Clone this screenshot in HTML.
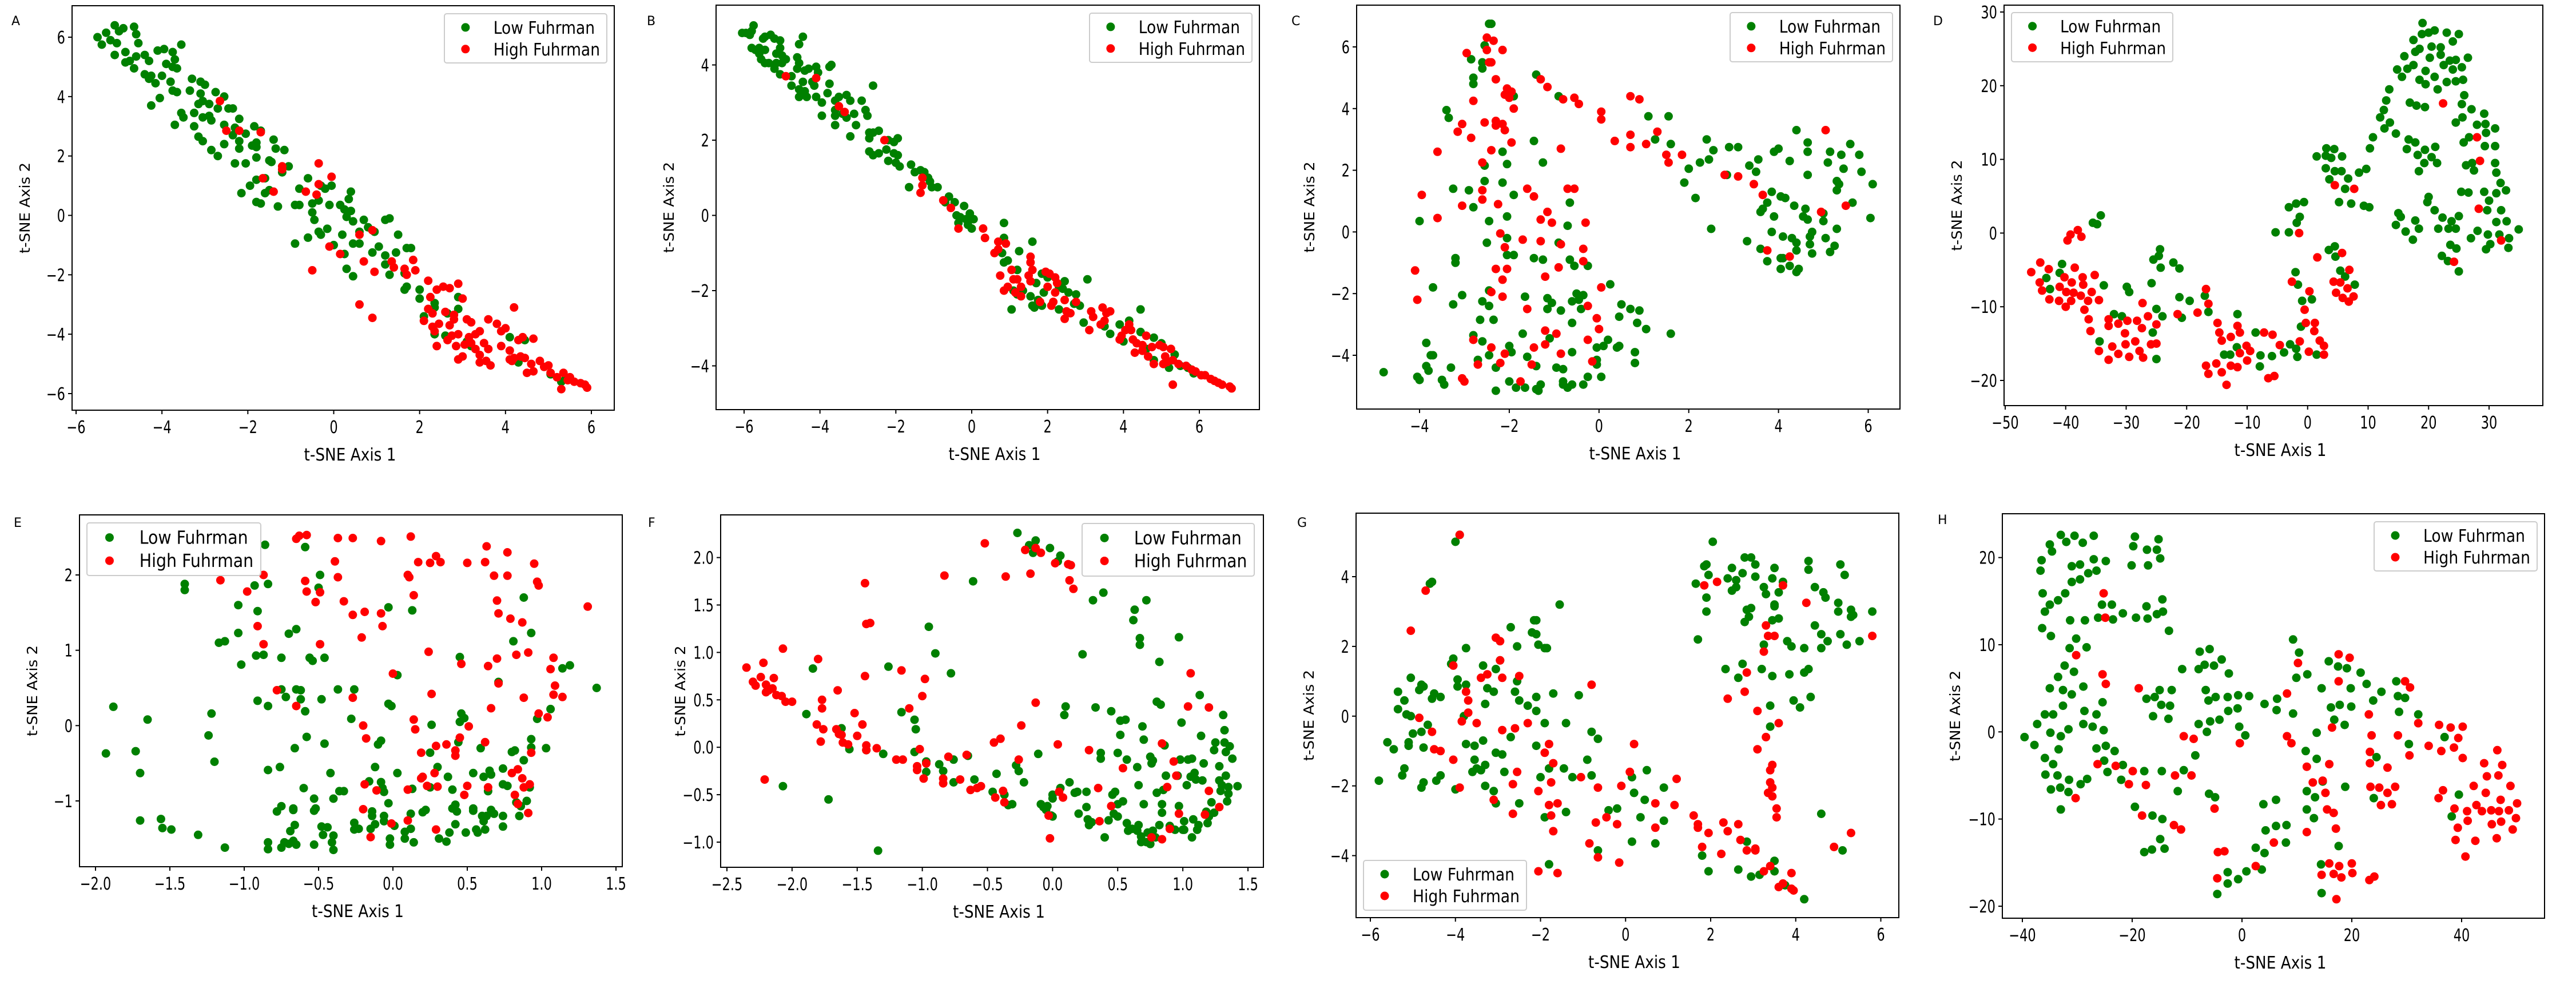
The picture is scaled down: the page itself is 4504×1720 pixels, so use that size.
<!DOCTYPE html>
<html><head><meta charset="utf-8"><style>html,body{margin:0;padding:0;background:#fff}svg{display:block}text{font-family:"DejaVu Sans","Liberation Sans",sans-serif}</style></head>
<body>
<svg id="fig" xmlns="http://www.w3.org/2000/svg" width="4504" height="1720" viewBox="0 0 4504 1720">
<rect width="4504" height="1720" fill="#fff"/>
</svg>
<script>
// ---------- data (t-SNE coordinates, [x,y] pairs flattened) ----------
const panelA_low=[-5.5,6.0,-5.1,6.4,-4.9,6.3,-4.65,6.35,-5.3,6.15,-5.0,6.2,-5.4,5.75,-5.2,5.9,-5.05,5.8,-4.6,6.1,-4.55,5.8,-5.1,5.4,-4.85,5.5,-4.85,5.15,-4.65,4.95,-4.75,5.2,-4.6,5.35,-4.4,5.4,-4.3,5.2,-4.1,5.55,-3.95,5.6,-3.75,5.5,-3.55,5.75,-3.9,5.1,-3.75,5.0,-3.65,4.95,-3.7,5.25,-4.4,4.75,-4.3,4.6,-4.25,4.7,-4.15,4.45,-4.0,4.7,-3.8,4.5,-3.75,4.2,-3.65,4.15,-4.05,3.95,-4.25,3.7,-3.3,4.6,-3.1,4.5,-3.0,4.4,-3.35,4.2,-3.1,4.1,-2.75,4.15,-2.55,4.0,-3.05,3.85,-3.15,3.75,-2.9,3.75,-2.7,3.6,-2.45,3.6,-2.35,3.6,-3.55,3.45,-3.5,3.3,-3.25,3.45,-3.05,3.3,-2.9,3.35,-2.85,3.2,-3.7,3.05,-3.25,3.0,-2.55,3.05,-2.2,3.25,-2.3,2.95,-1.85,3.0,-1.7,2.85,-2.05,2.75,-3.15,2.65,-3.05,2.5,-2.85,2.2,-2.7,2.0,-2.55,2.4,-2.35,2.7,-2.2,2.5,-2.2,2.25,-1.9,2.35,-1.8,2.45,-1.8,2.3,-1.8,1.95,-1.4,2.55,-1.35,2.25,-1.15,2.2,-1.5,1.85,-1.45,1.8,-2.3,1.75,-2.05,1.75,-1.2,1.45,-1.05,1.65,-1.6,1.25,-1.8,1.2,-1.95,1.0,-2.15,0.75,-1.6,0.75,-1.5,0.85,-1.8,0.45,-1.7,0.4,-1.3,0.3,-0.9,0.35,-0.8,0.35,-0.8,0.9,-0.6,1.25,-0.3,1.0,-0.2,0.9,-0.05,1.0,0.4,0.8,-0.5,0.4,-0.35,0.5,-0.1,0.35,0.15,0.35,0.35,0.55,0.25,0.2,0.4,0.15,-0.5,0.1,-0.45,-0.15,-0.35,-0.55,-0.3,-0.65,-0.15,-0.45,0.3,-0.05,0.45,-0.2,0.7,-0.15,0.8,-0.4,0.95,-0.55,0.6,-0.55,1.2,-0.15,1.3,-0.1,1.5,-0.65,0.2,-0.65,0.6,-0.95,0.45,-0.95,-0.9,-0.95,-0.6,-0.75,0.0,-1.0,1.05,-1.05,0.9,-1.25,0.25,-1.3,1.2,-1.35,1.45,-1.25,1.7,-1.1,1.8,-1.1,1.2,-1.65,1.3,-2.0,0.3,-1.8,0.45,-2.05,1.65,-1.95,1.7,-2.4,1.65,-2.5,2.0,-2.5,2.0,-2.8,2.35,-2.95,2.9,-2.75,2.35,-3.1,2.1,-3.4,2.65,-3.3,2.9,-3.15,2.35,-4.0,2.6,-4.05,3.1,-4.25,3.2,-4.4,4.1,-4.1,4.45,-4.2,4.3,-4.95,5.05,-5.35,5.3,-5.6,5.4,-5.5];
const panelA_high=[-2.65,3.85,-2.5,2.85,-2.2,2.85,-1.7,2.8,-1.2,1.65,-1.2,1.55,-0.35,1.75,-0.05,1.3,-1.65,1.25,-1.4,0.8,-0.65,0.8,-0.35,1.05,-0.4,0.7,0.6,-0.65,0.9,-0.5,-0.1,-1.05,0.15,-1.3,0.7,-1.55,0.95,-1.9,-0.5,-1.85,1.35,-1.55,1.4,-1.75,1.65,-1.8,1.7,-2.0,1.85,-1.5,1.9,-1.85,0.6,-3.0,0.9,-3.45,2.2,-2.2,2.25,-2.75,2.4,-2.5,2.55,-2.4,2.7,-2.45,2.9,-2.3,3.0,-2.8,2.2,-3.15,2.3,-3.3,2.6,-3.25,2.8,-3.35,2.8,-3.5,2.1,-3.55,2.3,-3.75,2.45,-3.65,2.7,-3.7,2.35,-3.9,2.65,-4.2,2.75,-4.05,2.9,-4.0,2.4,-4.4,2.85,-4.4,3.1,-3.5,3.2,-3.6,3.3,-4.0,3.4,-3.9,3.15,-4.1,3.2,-4.3,3.05,-4.35,3.3,-4.5,3.5,-4.3,3.4,-4.7,3.0,-4.75,2.9,-4.85,3.6,-3.5,3.8,-3.65,3.9,-3.9,4.0,-3.8,3.6,-4.5,3.9,-4.4,3.55,-4.9,3.65,-5.05,3.4,-4.95,4.2,-3.1,4.1,-4.55,4.3,-4.2,4.4,-4.1,4.65,-4.15,4.1,-4.85,4.2,-4.8,4.35,-4.75,4.45,-4.8,4.5,-5.3,4.65,-5.25,4.6,-5.0,4.8,-4.9,4.9,-5.1,5.0,-5.05,5.05,-5.3,5.2,-5.45,5.35,-5.3,5.45,-5.55,5.5,-5.45,5.6,-5.6,5.75,-5.65,5.85,-5.7,5.9,-5.8,5.3,-5.85,4.15,-4.9];
const panelB_low=[-6.05,4.85,-5.95,4.85,-5.85,4.8,-5.8,4.9,-5.75,5.05,-5.8,4.45,-5.7,4.4,-5.6,4.3,-5.55,4.15,-5.6,4.45,-5.45,4.4,-5.5,4.7,-5.45,4.75,-5.3,4.8,-5.2,4.7,-5.05,4.65,-5.05,4.45,-5.15,4.3,-5.0,4.25,-4.9,4.15,-5.0,4.05,-5.15,4.05,-5.35,4.05,-5.45,4.05,-5.2,3.9,-5.05,3.75,-4.75,3.7,-4.55,4.55,-4.45,4.75,-4.6,4.2,-4.55,4.05,-4.6,3.9,-4.4,3.85,-4.3,3.9,-4.1,3.95,-4.05,3.8,-3.7,4.0,-3.75,3.95,-4.45,3.55,-4.2,3.55,-4.15,3.45,-4.75,3.45,-4.55,3.35,-4.55,3.15,-4.4,3.3,-4.35,3.15,-4.1,3.15,-3.95,3.0,-3.8,3.25,-3.75,3.5,-3.6,3.05,-3.5,3.15,-3.3,3.2,-3.2,3.05,-2.9,3.05,-2.6,3.45,-3.6,2.8,-3.4,2.7,-3.3,2.6,-3.1,2.7,-3.05,2.4,-2.8,2.8,-2.75,2.65,-3.6,2.65,-3.6,2.4,-3.95,2.65,-3.2,2.1,-2.7,2.2,-2.7,2.05,-2.45,2.25,-2.6,2.2,-2.2,2.0,-2.05,1.95,-1.95,2.05,-2.7,1.7,-2.6,1.6,-2.45,1.65,-2.25,1.75,-2.05,1.65,-1.95,1.6,-2.2,1.45,-2.0,1.4,-1.9,1.3,-1.6,1.35,-1.5,1.15,-1.35,1.2,-1.25,1.15,-1.15,1.0,-1.1,0.9,-1.05,0.75,-0.9,0.75,-1.65,0.75,-0.6,0.5,-0.7,0.35,-0.45,0.35,-0.2,0.25,-0.4,0.0,-0.3,-0.05,-0.15,-0.1,-0.05,0.05,0.05,-0.1,-0.35,-0.2,-0.1,-0.25,0.0,-0.35,0.85,-0.2,0.85,-0.6,0.8,-1.0,0.85,-1.25,0.95,-1.2,1.25,-0.95,1.6,-0.7,1.2,-1.45,1.1,-2.0,1.2,-2.1,1.35,-2.0,1.55,-2.15,1.6,-2.4,1.65,-2.45,1.05,-2.5,1.7,-1.8,1.85,-1.55,2.0,-1.65,1.9,-2.05,1.75,-2.25,1.85,-2.4,2.3,-2.5,2.3,-1.9,2.45,-1.75,2.4,-1.95,2.55,-2.05,2.75,-2.1,2.7,-2.35,2.85,-2.4,3.05,-1.7,2.95,-2.85,3.5,-2.95,3.65,-3.15,3.9,-2.9,4.15,-2.8,4.45,-2.5,4.45,-3.1,4.0,-3.35,4.8,-3.25,4.6,-3.55,5.0,-3.4,4.8,-3.85,5.2,-4.05,5.35,-3.7,5.5,-4.0,5.85,-4.2,5.7,-4.05];
const panelB_high=[-4.9,3.7,-4.1,3.65,-3.5,2.9,-3.35,2.75,-2.3,2.0,-1.3,1.0,-1.3,0.8,-1.35,0.6,-0.75,0.4,-0.55,0.2,-0.35,-0.35,0.3,-0.35,0.35,-0.6,0.6,-1.0,0.7,-0.9,0.7,-0.7,0.9,-0.75,0.75,-1.6,0.85,-2.0,0.95,-1.9,1.05,-1.45,1.1,-1.7,1.15,-2.05,1.2,-1.7,1.3,-1.9,1.3,-2.15,1.5,-1.6,1.55,-1.75,1.55,-1.1,1.55,-1.25,1.6,-1.45,1.95,-1.5,2.05,-1.55,2.0,-1.9,2.2,-1.65,2.25,-1.8,2.2,-2.05,1.8,-2.3,2.15,-2.3,2.1,-2.4,2.45,-2.25,2.5,-2.55,2.6,-2.6,2.45,-2.75,2.75,-2.3,3.15,-2.55,3.2,-2.7,3.1,-3.05,3.4,-2.9,3.45,-2.45,3.55,-2.6,3.65,-2.55,3.5,-2.8,3.9,-3.3,3.95,-3.2,4.05,-3.05,4.15,-2.9,4.2,-3.05,4.25,-3.3,4.35,-3.4,4.5,-3.45,4.6,-3.2,4.5,-3.6,4.3,-3.65,4.65,-3.75,4.75,-3.5,4.95,-3.45,5.05,-3.5,5.1,-3.75,5.15,-3.9,5.25,-3.55,5.3,-3.85,4.8,-3.95,5.05,-3.95,5.3,-4.5,5.45,-3.95,5.65,-4.0,5.8,-4.1,5.9,-4.15,6.05,-4.25,6.15,-4.25,6.3,-4.35,6.4,-4.4,6.5,-4.45,6.6,-4.5,6.8,-4.55,6.85,-4.6];
const panelC_low=[-2.45,6.75,-2.4,6.75,-2.55,6.05,-2.85,5.6,-2.6,5.5,-2.6,5.3,-2.8,5.0,-2.8,4.8,-1.4,5.1,-0.9,4.4,-1.9,4.4,-3.4,3.95,-3.35,3.7,-1.45,2.95,-2.15,2.6,-1.25,2.25,-2.55,2.15,-2.05,2.2,-2.55,1.65,-2.15,1.6,-3.25,1.4,-2.9,1.35,-1.9,1.2,-2.8,0.8,-0.65,0.95,-4.0,0.35,-2.45,0.35,-2.05,0.5,-0.7,0.2,-2.5,-0.35,-2.05,-0.2,-0.9,-0.35,-2.05,-0.75,-1.9,-0.75,-3.2,-0.85,-3.2,-1.0,-1.45,-0.85,-1.25,-0.9,-0.65,-0.9,-0.55,-1.1,-0.25,-1.1,-3.7,-1.8,-3.05,-2.05,-2.45,-1.9,-1.65,-2.1,-1.15,-2.15,-0.5,-2.0,-0.35,-2.05,0.25,-1.7,-3.25,-2.35,-2.6,-2.25,-2.45,-2.4,-1.05,-2.3,-0.6,-2.25,-0.45,-2.2,-1.15,-2.5,-0.85,-2.55,-0.4,-2.5,0.5,-2.35,0.7,-2.5,0.9,-2.55,0.45,-2.75,0.85,-2.95,-2.65,-2.85,-2.35,-2.85,-0.6,-2.95,1.05,-3.15,1.6,-3.3,-2.8,-3.35,-1.7,-3.3,-3.85,-3.6,-2.6,-3.55,-2.0,-3.7,-1.1,-3.45,0.2,-3.5,0.1,-3.7,-0.05,-3.75,0.45,-3.7,0.4,-3.75,0.8,-3.9,-3.75,-4.0,-3.7,-4.0,-2.7,-4.15,-2.45,-4.0,-1.95,-3.9,-1.6,-4.05,-0.6,-3.9,-0.05,-4.15,-0.05,-4.3,0.8,-4.25,-4.8,-4.55,-3.85,-4.35,-3.8,-4.5,-3.3,-4.4,-2.3,-4.4,-1.4,-4.35,-0.95,-4.4,-0.8,-4.45,-4.05,-4.7,-4.0,-4.8,-3.5,-4.8,-3.45,-4.95,-2.0,-4.85,-1.85,-5.05,-1.65,-5.05,-1.4,-5.1,-1.3,-4.95,-1.35,-5.15,-2.3,-5.15,-0.8,-4.85,-0.8,-4.95,-0.7,-5.05,-0.6,-4.95,-0.35,-4.95,-0.25,-4.7,0.05,-4.7,1.1,3.75,1.55,3.75,1.25,3.0,1.6,2.85,2.4,3.0,2.55,2.65,2.9,2.75,3.1,2.75,2.45,2.35,2.25,2.25,2.0,2.05,1.9,1.6,2.15,1.1,2.5,0.1,2.85,1.85,3.35,2.15,3.55,2.35,3.5,1.95,3.9,2.6,4.0,2.7,4.25,2.3,4.4,3.3,4.65,2.9,4.65,2.6,4.65,1.85,5.15,2.6,5.1,2.25,5.4,2.5,5.45,2.05,5.6,2.85,5.8,2.5,5.85,1.95,6.1,1.55,5.3,1.65,5.35,1.55,5.3,1.35,5.65,0.95,6.05,0.45,3.85,1.3,4.05,1.15,4.15,1.1,3.75,0.95,3.65,0.75,3.6,0.65,3.9,0.5,4.35,0.85,4.6,0.75,4.55,0.5,4.65,0.4,5.0,0.6,5.0,0.35,5.3,0.1,3.85,0.0,4.1,-0.15,4.3,-0.2,4.7,-0.15,4.75,0.0,5.05,-0.2,4.4,-0.35,4.7,-0.4,5.25,-0.45,3.3,-0.3,3.6,-0.55,3.75,-0.95,4.05,-0.85,4.1,-0.85,4.4,-0.6,4.75,-0.7,5.15,-0.65,4.05,-1.2,4.25,-1.1,4.4,-1.3,4.45,-1.2];
const panelC_high=[-2.5,6.3,-2.35,6.2,-2.5,5.9,-2.15,5.9,-2.95,5.8,-2.45,5.5,-2.4,5.5,-2.3,4.95,-2.05,4.65,-1.95,4.55,-2.1,4.45,-2.0,4.35,-2.8,4.25,-1.9,4.0,-2.55,3.55,-2.3,3.6,-2.15,3.5,-2.3,3.45,-2.1,3.3,-3.05,3.5,-3.15,3.25,-2.85,3.05,-1.95,2.9,-2.4,2.65,-3.6,2.6,-2.6,2.25,-1.3,4.95,-1.15,4.7,-0.8,4.3,-0.55,4.35,-0.45,4.15,0.05,3.9,0.05,3.65,0.7,4.4,0.9,4.3,0.35,2.95,0.7,3.15,0.7,2.75,1.05,2.85,1.3,3.25,-0.85,2.7,1.5,2.5,1.55,2.25,1.85,2.5,2.8,1.85,3.1,1.8,3.45,1.55,3.65,1.2,5.05,3.3,4.95,0.65,5.5,0.85,3.75,-0.6,4.25,-0.8,-3.95,1.2,-3.6,0.45,-3.05,0.85,-2.6,1.35,-2.6,1.05,-2.25,0.9,-1.6,1.4,-1.45,1.15,-0.7,1.4,-0.55,1.4,-1.15,0.65,-1.3,0.4,-1.05,0.3,-0.3,0.3,-2.2,-0.05,-1.7,-0.25,-1.3,-0.3,-0.85,-0.4,-0.35,-0.55,-2.1,-0.5,-2.3,-1.2,-2.05,-1.2,-2.15,-1.55,-1.2,-1.45,-0.9,-1.15,-0.35,-0.95,-4.1,-1.25,-4.05,-2.2,-2.4,-1.95,-2.15,-2.1,0.05,-1.8,-1.6,-2.5,-0.25,-2.4,-0.05,-2.8,0.0,-3.15,-1.2,-3.2,-0.95,-3.3,-0.25,-3.5,-2.8,-3.5,-2.4,-3.75,-1.2,-3.65,-1.45,-3.75,-2.1,-3.95,-0.85,-3.95,-2.7,-4.3,-2.2,-4.25,-1.5,-4.3,-0.15,-4.2,-3.05,-4.75,-3.0,-4.85,-1.75,-4.85];
const panelD_low=[19,28.5,21,27.5,20,27.2,18.9,27,23,27.2,25,27,17.5,26.2,24,26,18.5,25,17.8,24.6,20.5,25.3,22,25.2,22,24.2,16,24,20.2,23.8,23.5,23.4,24.5,23.5,26.5,23.8,14.8,22.2,16.5,22.3,17.5,22.8,22.5,22.8,19.5,22,24,22.2,25.5,22.5,15.6,21.2,18.5,20.8,21,21.2,19.5,20.2,23,20.5,24.5,20.6,25.7,20.8,13.5,19.5,21.5,19.5,25.9,18.7,13,18,16.9,17.7,18,17.3,19.4,17.1,25.5,17.5,12.6,16.7,27.1,16.8,12,15.7,25.6,15.7,29.2,16.2,13.6,15,24.5,15,12.7,14.2,28,14.7,29.4,14.8,31,14.2,14.6,13.5,16.7,12.7,26.7,13,29.5,13.6,10.8,13,17.8,12.3,25.8,12.3,10.3,11.5,16.4,11.4,19.4,11.3,21.1,11.7,29.3,11.8,31,11.8,18.2,10.6,20.5,10.3,19.3,9.5,21.4,9.5,26.2,9.2,27.2,9.5,31,9.5,18.4,8.4,27.5,8.5,31.2,8.2,31.9,6.8,25.4,5.6,26.6,5.5,29.2,5.6,31.2,5.4,32.8,5.8,20,4.9,19.8,4.2,30,4.4,21,3.1,29.7,3.1,32,3.1,15,2.7,15.4,2.2,22.3,2.1,25,2.3,17.8,1.7,23.8,1.6,31.2,1.5,32.9,1.6,14.6,1.1,21.6,0.6,23.3,0.6,24.5,0.6,18.4,0.6,34.9,0.5,16.2,0.2,28.1,0.3,29.8,-0.2,31.7,-0.2,17.4,-0.9,27,-0.7,33.3,-0.7,23.6,-1.6,30.2,-1.5,24.6,-2.1,29.5,-2.2,33.2,-2,22.2,-3.1,23.2,-3.8,25,-5.2,1.5,10.4,3,10.5,3.1,11.5,4.4,11.4,3.9,10.2,5.7,10.4,3,8.8,4.5,8.4,5.6,8.4,8.5,8.2,9.7,8.7,3.6,7.3,6.7,7.4,6.2,6,5.2,4.2,7.2,4,9.3,3.7,10.2,3.5,-0.6,4.2,-1.9,4,-3.1,3.5,-1.3,2.2,-1.8,1.4,-5.3,0.1,-3.1,0.1,3.5,-2.3,4.5,-1.8,4.6,-3.2,5.4,-5.1,6.2,-5.9,7.8,-7,-2,-5.3,-1.6,-7,-0.9,-9.2,0.7,-9,-1.1,-12.7,-2.9,-15.1,-1.9,-15.7,1.5,-16.5,-3.9,-16.2,-1.7,-16.8,-35.5,1.4,-34.8,1.2,-34.2,2.4,-40.6,-4.2,-41,-5.4,-43.2,-6.1,-42.6,-7.6,-33.7,-7.1,-29.9,-7.3,-29.5,-8,-24.4,-2.2,-24.6,-3.1,-25.5,-3.6,-24.3,-4.7,-22.2,-4,-21.2,-4.8,-25.8,-6.8,-21.2,-8.7,-19.5,-9.2,-17,-8.5,-16.4,-10.7,-25,-10.3,-24,-11.3,-20.8,-11.5,-32,-11,-30.7,-11.3,-25.6,-13.5,-34.4,-14.7,-25,-17.1,-8.6,-13.5,-11.6,-11,-11.7,-15.5,-13.8,-16.5,-12.8,-16.5,-7.8,-16.6,-5.9,-16.7,-7.9,-18.1];
const panelD_high=[-39.7,-1,-39.2,-0.2,-38,0.4,-37.4,-0.5,-45.7,-5.3,-44.2,-4,-42.8,-4.9,-38.5,-4.7,-44.3,-6.7,-43.9,-7.8,-40.2,-6,-39,-6.7,-37.2,-6,-35.2,-5.7,-41,-7.3,-39.9,-8,-38.7,-8.1,-37.1,-7,-37.5,-8.5,-35.7,-8,-42.7,-9,-41.1,-9.2,-40,-10,-39.1,-9.2,-36.3,-9.2,-34.5,-9.1,-36.9,-10.4,-36.2,-11.7,-35.9,-13.3,-32.9,-11.7,-32.9,-12.6,-31.3,-12.3,-29.8,-11.9,-28.2,-11.9,-30.2,-13.6,-27.4,-12.9,-27.3,-9.5,-26.4,-11.3,-25,-12.4,-32.3,-15.4,-34.5,-16,-31.3,-16.4,-28.5,-14.7,-30.1,-15.1,-27.8,-16,-29.5,-16.8,-32.9,-17.2,-27.2,-16.9,-25.9,-15.1,-25,-15,-21.5,-11,-18.2,-10.8,-16.8,-7.6,-16.4,-9.6,-14.9,-12.2,-14.6,-13.5,-14.2,-14.6,-12.7,-14.1,-11.6,-12.6,-11.2,-13.5,-10.1,-15.3,-9.5,-16,-11.2,-16.3,-10,-17.3,-12.7,-18,-11.6,-18.2,-15.1,-17.7,-16.8,-18,-16.4,-19.1,-14.2,-18.9,-13.4,-20.6,-7.2,-13.5,-5.8,-13.8,-4.6,-15.2,-6.5,-19.7,-5.5,-19.4,-1.4,0,1.6,-3.3,-2.6,-6.6,0.3,-7.9,-0.5,-10.4,-0.3,-12.2,1.2,-12.2,1.1,-13.3,2,-14.6,2.7,-15.3,2.7,-16.5,-1.3,-14.7,0.2,-16.1,4.5,6.5,7.7,6,5.7,-2.7,6.9,-5,4.3,-6.6,5.4,-6.7,6.6,-7.5,4.7,-8.1,5.8,-8.8,6.8,-9.3,7.6,-8.6,22.4,17.6,28,13,28.5,9.8,28.3,3.3,32,-1,24.2,-3.9];
const panelE_low=[-1.88,0.25,-1.93,-0.37,-1.73,-0.34,-1.7,-0.63,-1.65,0.08,-1.7,-1.26,-1.56,-1.24,-1.55,-1.36,-1.49,-1.38,-1.31,-1.45,-1.13,-1.62,-1.22,0.16,-1.24,-0.13,-1.2,-0.48,-1.4,1.88,-1.4,1.8,-1.17,1.1,-1.13,1.12,-1.02,0.81,-1.04,1.23,-1.04,1.6,-0.93,1.86,-0.91,1.52,-0.84,1.88,-0.86,2.4,-0.92,0.93,-0.87,0.94,-0.75,0.9,-0.7,1.22,-0.65,1.28,-0.59,2.37,-0.49,2.0,-0.5,1.83,-0.56,0.9,-0.54,0.86,-0.46,0.9,-0.91,0.33,-0.84,0.26,-0.75,0.48,-0.72,0.38,-0.65,0.48,-0.62,0.47,-0.62,0.35,-0.59,0.19,-0.48,0.35,-0.37,0.48,-0.26,0.48,-0.28,0.09,-0.58,-0.15,-0.46,-0.24,-0.66,-0.3,-0.84,-0.59,-0.76,-0.55,-0.6,-0.83,-0.42,-0.63,-0.53,-0.97,-0.4,-0.97,-0.36,-0.87,-0.33,-0.87,-0.75,-1.07,-0.78,-1.14,-0.67,-1.1,-0.67,-1.12,-0.53,-1.13,-0.52,-1.1,-0.66,-1.32,-0.69,-1.4,-0.48,-1.34,-0.47,-1.45,-0.44,-1.35,-0.4,-1.46,-0.84,-1.55,-0.84,-1.64,-0.75,-1.62,-0.73,-1.55,-0.7,-1.57,-0.67,-1.53,-0.65,-1.58,-0.53,-1.58,-0.41,-1.55,-0.4,-1.65,-0.26,-1.29,-0.26,-1.38,-0.23,-1.37,-0.16,-0.74,-0.14,-1.14,-0.14,-1.2,-0.15,-1.37,-0.12,-1.31,-0.12,-0.55,-0.1,-0.25,-0.08,-0.2,-0.08,-0.75,-0.07,-0.83,-0.06,-0.88,-0.06,-1.2,-0.06,-1.27,-0.03,-1.03,-0.02,-1.5,-0.02,-1.58,-0.03,0.29,-0.01,0.26,0.03,0.67,0.03,-0.63,-0.03,1.57,0.13,1.53,0.01,-1.33,0.08,-1.41,0.08,-1.5,0.12,-1.37,0.12,-1.17,0.13,-0.84,0.14,-1.55,0.2,-1.15,0.22,-1.12,0.25,-0.82,0.25,-0.36,0.26,0.01,0.3,-0.55,0.31,-1.5,0.36,-1.54,0.37,-0.68,0.38,-1.42,0.4,-0.85,0.4,-1.1,0.42,-1.05,0.43,-1.14,0.42,-1.31,0.44,-0.22,0.45,0.05,0.45,0.91,0.46,0.16,0.48,0.1,0.49,-1.42,0.54,-0.63,0.54,-1.1,0.54,-1.13,0.56,-1.38,0.57,-1.42,0.59,-0.3,0.6,-1.2,0.61,-0.68,0.61,-1.27,0.62,-1.38,0.63,-1.2,0.64,-0.87,0.65,-0.6,0.66,-1.12,0.66,-0.65,0.68,-1.17,0.71,0.58,0.74,-0.78,0.74,-1.2,0.74,-1.34,0.74,-0.57,0.77,-0.8,0.8,-0.35,0.82,-0.33,0.81,1.12,0.83,-1.02,0.85,-1.2,0.86,-1.07,0.88,1.7,0.88,-0.46,0.9,-1.0,0.92,-0.82,0.93,1.23,0.93,-0.18,0.93,-0.29,0.97,0.09,1.03,-0.3,1.06,0.22,1.14,0.76,1.19,0.8,1.37,0.5];
const panelE_high=[-1.16,1.93,-0.98,1.78,-0.87,2.0,-0.91,1.32,-0.87,1.08,-0.78,0.47,-0.65,0.26,-0.65,2.48,-0.63,2.52,-0.58,2.53,-0.59,1.92,-0.58,1.78,-0.52,1.64,-0.49,1.77,-0.49,1.08,-0.39,2.18,-0.37,1.97,-0.37,2.49,-0.33,1.65,-0.27,2.49,-0.27,1.47,-0.21,1.17,-0.19,1.51,-0.08,2.45,-0.08,1.49,-0.07,1.32,-0.27,0.37,-0.2,0.0,-0.18,-0.17,-0.19,-0.78,-0.2,-1.11,-0.15,-1.48,-0.11,-0.86,-0.01,-1.3,0.0,0.69,0.1,-0.85,0.1,-1.26,0.1,2.0,0.11,1.97,0.12,2.51,0.14,1.73,0.14,0.08,0.15,-0.05,0.17,2.17,0.19,-0.36,0.19,-0.7,0.2,-0.68,0.23,-0.8,0.24,0.98,0.25,2.16,0.26,0.42,0.28,-0.63,0.29,-0.27,0.29,2.25,0.3,-0.81,0.32,2.17,0.36,-0.25,0.29,-1.38,0.42,-0.33,0.42,-0.4,0.45,-0.16,0.46,0.82,0.5,2.16,0.5,-0.8,0.48,-0.92,0.51,-0.01,0.62,-0.22,0.62,2.17,0.63,2.38,0.64,0.79,0.64,-0.82,0.66,0.23,0.68,1.99,0.7,1.66,0.7,0.89,0.71,1.49,0.71,0.56,0.77,2.3,0.77,1.99,0.79,1.42,0.8,-0.63,0.82,-0.92,0.83,0.94,0.84,-0.58,0.84,-1.04,0.87,-0.7,0.87,1.37,0.88,0.37,0.88,-0.82,0.91,0.97,0.91,-1.16,0.92,-0.78,0.93,-0.36,0.95,2.15,0.97,1.91,0.98,1.86,0.98,0.16,1.04,0.11,1.06,0.75,1.08,0.9,1.08,0.41,1.09,0.53,1.14,0.38,1.31,1.58];
const panelF_low=[-1.84,0.83,-1.89,0.35,-1.62,0.2,-1.56,-0.02,-1.43,-0.03,-1.26,0.85,-1.3,-0.07,-2.07,-0.41,-1.72,-0.55,-1.34,-1.09,-1.16,0.37,-1.06,0.29,-1.05,0.19,-1.06,-0.05,-0.95,1.27,-0.9,0.99,-0.78,0.78,-0.97,-0.15,-0.87,-0.18,-0.97,-0.26,-0.84,-0.25,-0.76,-0.37,-0.76,-0.13,-0.61,1.75,-0.65,-0.09,-0.6,-0.34,-0.46,-0.47,-0.43,-0.28,-0.37,-0.5,-0.34,-0.61,-0.31,-0.6,-0.28,-0.19,-0.26,-0.25,-0.22,-0.37,-0.27,2.26,-0.18,2.13,-0.15,2.05,-0.13,2.18,-0.02,2.1,0.06,2.02,0.04,1.96,-0.11,-0.07,-0.09,-0.6,-0.07,-0.63,-0.04,-0.62,-0.05,-0.66,0.0,-0.54,0.0,-0.5,-0.01,-0.72,0.0,-0.73,0.06,-0.43,0.09,0.34,0.1,0.43,0.13,-0.37,0.17,-0.48,0.19,-0.47,0.2,-0.7,0.23,0.98,0.26,-0.47,0.26,-0.63,0.27,-0.76,0.28,-0.82,0.3,-0.79,0.31,1.55,0.33,0.42,0.37,-0.06,0.37,-0.12,0.39,1.63,0.4,-0.95,0.43,-0.77,0.45,0.38,0.46,-0.5,0.47,-0.7,0.48,-0.47,0.5,-0.6,0.5,-0.73,0.5,-0.06,0.52,0.28,0.52,0.13,0.54,-0.57,0.56,0.29,0.57,-0.8,0.57,-0.13,0.58,-0.88,0.61,-0.86,0.62,1.34,0.63,1.45,0.65,-0.21,0.65,-0.88,0.66,-0.82,0.66,-0.4,0.68,-0.94,0.68,-1.0,0.67,1.15,0.67,1.08,0.69,0.22,0.7,-0.6,0.7,0.08,0.72,1.55,0.72,-1.0,0.73,-0.9,0.75,-0.1,0.75,-1.02,0.76,-0.17,0.77,-0.14,0.77,-0.88,0.79,-0.95,0.8,-0.48,0.8,0.48,0.82,0.9,0.82,-0.82,0.83,0.45,0.84,-0.6,0.84,-0.69,0.85,-0.45,0.86,0.02,0.87,-0.3,0.9,-0.83,0.94,-0.87,0.96,-0.3,0.97,-0.62,0.97,1.16,0.98,-0.13,0.99,0.26,1.0,-0.87,1.01,-0.78,1.01,-0.87,1.03,-0.4,1.04,-0.13,1.06,-0.31,1.07,-0.95,1.08,-0.76,1.07,-0.12,1.09,-0.27,1.1,-0.34,1.11,-0.87,1.12,-0.82,1.13,0.55,1.14,0.12,1.15,-0.35,1.16,-0.17,1.18,-0.68,1.19,-0.8,1.2,-0.73,1.22,-0.58,1.24,-0.69,1.24,-0.03,1.25,0.05,1.28,-0.35,1.28,-0.2,1.29,-0.46,1.3,-0.4,1.31,0.34,1.32,0.18,1.32,0.05,1.33,-0.05,1.33,-0.3,1.35,-0.42,1.34,-0.57,1.35,-0.49,1.36,0.01,1.38,-0.12,1.42,-0.41];
const panelF_high=[-2.35,0.84,-2.22,0.89,-2.3,0.69,-2.28,0.65,-2.24,0.74,-2.2,0.66,-2.18,0.6,-2.15,0.62,-2.2,0.58,-2.14,0.73,-2.12,0.55,-2.08,0.54,-2.05,0.48,-2.0,0.48,-2.07,1.04,-1.8,0.93,-1.77,0.5,-1.77,0.41,-1.81,0.24,-1.76,0.19,-1.78,0.06,-1.65,0.6,-1.66,0.19,-1.64,0.14,-1.62,0.13,-1.61,0.05,-1.57,0.03,-1.52,0.36,-1.5,0.12,-1.46,0.24,-1.44,1.73,-1.43,1.3,-1.4,1.31,-1.44,0.75,-1.43,0.02,-1.43,-0.03,-1.35,-0.01,-1.2,-0.13,-1.15,-0.13,-1.16,0.81,-1.1,0.41,-1.04,-0.2,-1.04,-0.24,-1.02,-0.02,-0.98,0.72,-1.0,0.54,-0.97,-0.17,-0.99,-0.33,-0.84,-0.33,-0.84,-0.38,-0.83,1.81,-0.8,-0.1,-0.71,-0.34,-0.66,-0.08,-0.63,-0.45,-0.58,-0.43,-0.55,-0.41,-0.52,2.15,-0.45,0.05,-0.4,0.09,-0.44,-0.53,-0.38,-0.46,-0.37,-0.58,-0.36,1.8,-0.26,-0.13,-0.24,0.23,-0.21,2.08,-0.17,1.83,-0.13,2.1,-0.09,2.05,-0.13,0.47,-0.03,-0.72,-0.02,-0.96,0.02,1.94,0.04,0.03,0.05,-0.47,0.08,-0.53,0.12,1.93,0.14,1.92,0.13,1.76,0.16,1.67,0.28,-0.03,0.35,-0.43,0.36,-0.78,0.45,-0.62,0.54,-0.22,0.76,-0.95,0.84,-0.97,0.84,0.04,0.88,-0.42,0.9,-0.86,0.93,-0.15,0.95,-0.3,0.97,-0.7,1.06,0.78,1.04,0.43,1.17,-0.71,1.2,-0.46,1.2,0.42,1.28,-0.63,-2.21,-0.34];
const panelG_low=[-3.9,5.2,-4.0,5.0,-4.6,3.8,-4.55,3.85,-1.55,3.2,-2.7,2.55,-2.15,2.75,-2.1,2.75,-2.2,2.4,-2.1,2.35,-2.55,2.0,-2.05,2.05,-1.9,1.95,-1.85,1.95,-3.75,1.95,-4.05,1.65,-4.1,1.5,-3.95,1.05,-3.95,0.85,-3.75,0.9,-3.35,1.45,-3.05,1.35,-2.95,1.6,-3.25,0.8,-3.1,0.7,-3.3,0.35,-2.55,1.0,-2.6,0.7,-2.5,0.45,-2.3,0.3,-2.1,0.55,-2.1,0.15,-1.7,0.65,-1.1,0.6,-5.05,1.1,-4.8,0.9,-4.75,0.85,-4.85,0.75,-5.35,0.7,-5.2,0.45,-4.5,0.65,-4.35,0.55,-4.55,0.5,-5.35,0.2,-5.15,0.05,-5.05,0.0,-3.8,0.0,-5.0,-0.5,-4.8,-0.45,-4.65,-0.25,-5.6,-0.75,-5.45,-0.95,-5.1,-0.75,-5.1,-0.85,-4.75,-0.9,-3.75,-0.8,-3.55,-0.85,-3.35,-0.7,-2.7,-0.6,-2.1,-0.85,-1.9,-0.2,-1.4,-0.2,-0.8,-0.45,-0.65,-0.65,-3.05,-1.05,-2.9,-1.1,-3.55,-1.25,-3.3,-1.4,-0.9,-1.25,-5.2,-1.5,-5.25,-1.7,-5.8,-1.85,-4.8,-2.05,-4.75,-1.9,-4.45,-1.85,-4.35,-1.7,-4.0,-2.1,-3.6,-1.6,-3.5,-1.5,-3.4,-1.55,-3.3,-2.0,-3.1,-2.15,-2.85,-1.6,-2.0,-1.75,-1.8,-1.5,-1.45,-1.5,-1.25,-1.75,-0.8,-1.7,-3.05,-2.5,-2.5,-2.5,-1.9,-2.9,-1.4,-2.75,-0.4,-2.7,-0.2,-2.65,0.15,-1.75,0.2,-2.2,0.45,-2.4,0.5,-1.55,0.9,-2.05,0.35,-2.9,0.9,-3.0,0.15,-3.6,0.7,-3.65,-0.65,-3.85,-1.8,-4.25,1.8,-4.0,1.95,-4.45,2.85,-3.6,2.65,-4.4,2.95,-4.6,3.15,-4.55,3.5,-4.15,3.5,-4.45,3.75,-4.85,4.2,-5.25,4.6,-2.8,5.1,-3.85,3.4,0.3,3.4,-0.3,2.05,5.0,2.8,4.55,2.95,4.55,1.85,4.3,1.9,4.35,1.95,4.05,1.65,3.8,1.9,3.4,1.9,3.0,2.5,4.25,2.6,3.9,2.75,4.1,2.4,3.95,2.5,3.6,2.6,3.7,3.05,4.35,3.05,4.0,3.5,4.25,3.45,3.95,3.25,3.7,3.3,3.5,3.6,3.55,3.7,3.85,3.5,3.2,3.5,3.15,2.85,3.05,2.95,3.1,2.9,2.85,2.8,2.7,3.45,2.75,3.6,2.8,4.3,4.45,4.3,4.2,4.45,3.7,4.65,3.55,4.7,3.4,5.05,4.35,5.15,4.05,5.0,3.25,5.0,3.0,5.3,3.05,5.35,2.9,5.3,2.85,5.8,3.0,4.45,2.6,4.6,2.35,4.75,2.15,5.05,2.35,5.2,2.05,5.5,2.15,4.6,1.95,4.2,1.95,3.8,2.15,3.9,2.0,3.25,2.05,1.7,2.2,2.35,1.35,2.65,1.1,2.75,1.5,3.2,1.35,3.45,1.15,3.85,1.2,4.2,1.25,4.3,1.35,3.95,0.45,4.1,0.25,4.35,0.55];
const panelG_high=[-3.9,5.2,-4.7,3.6,-5.05,2.45,-4.05,1.45,-3.75,0.7,-3.7,0.45,-3.7,0.1,-3.85,-0.15,-4.85,-0.05,-4.55,-0.45,-4.5,-0.95,-4.35,-1.0,-4.05,-1.25,-3.5,-0.2,-3.9,-2.05,-3.4,1.1,-3.25,1.2,-3.05,2.25,-2.95,2.15,-2.95,1.6,-2.9,1.1,-2.5,1.15,-2.9,-0.4,-2.6,-0.35,-2.3,-0.2,-1.9,-1.05,-1.8,-0.8,-1.7,-1.35,-1.75,-1.9,-2.55,-1.6,-2.65,-1.95,-2.05,-2.15,-3.1,-2.4,-1.8,-2.55,-1.6,-2.5,-1.75,-2.85,-1.7,-3.3,-2.65,-2.8,-1.05,-1.75,-0.8,0.9,-0.65,-2.05,-0.1,-2.0,-0.7,-3.05,-0.45,-2.9,-0.2,-3.1,-0.85,-3.65,-0.65,-4.05,-0.15,-4.2,-2.05,-4.45,-1.6,-4.5,0.1,-1.6,0.2,-0.8,0.7,-2.5,0.7,-3.2,1.2,-1.8,1.15,-2.55,1.6,-2.85,1.7,-3.1,1.7,-3.2,1.95,-3.35,1.8,-3.75,2.25,-3.95,2.3,-3.05,2.4,-3.3,2.65,-3.1,2.7,-3.55,2.85,-3.85,3.05,-3.8,3.05,-3.85,3.25,-4.45,3.4,-4.3,3.6,-4.9,3.7,-4.8,3.9,-4.95,3.95,-5.0,3.9,-4.5,4.9,-3.75,5.3,-3.35,1.85,3.75,2.15,3.85,3.7,3.75,4.25,3.25,5.8,2.3,3.3,2.6,3.35,2.3,3.5,2.3,3.25,1.85,2.85,1.25,2.8,0.7,2.4,0.5,3.1,0.15,3.6,-0.2,3.3,-0.6,3.1,-0.95,3.45,-1.4,3.4,-1.55,3.4,-1.9,3.45,-2.05,3.35,-2.2,3.45,-2.3,3.55,-2.65,3.55,-2.9];
const panelH_low=[-33,22.6,-30.5,22.5,-27,22.5,-35,21.5,-32,21.8,-29,21.7,-34.6,20.7,-36.5,19.7,-36.7,18.5,-31,19,-29.5,19.2,-27,19.8,-24.8,19.6,-28,18.2,-26.5,18.5,-31,17.2,-29.5,17.5,-19.5,22.4,-15.2,22.1,-19.8,21.3,-17.3,20.9,-15.5,20.9,-14.9,19.9,-20.1,19.1,-17.1,19.1,-36.3,15.9,-32.2,15.9,-33.5,15.1,-35,14.6,-35.9,13.8,-25.5,14.6,-23.7,14.6,-31.3,12.8,-28.6,12.8,-26.2,13.1,-23.5,12.9,-21.7,13.6,-19.3,13.1,-17.4,14.4,-15.5,13.5,-17.2,13.0,-14.4,13.8,-14.5,15.2,-13.3,11.6,-36.4,11.9,-34.8,11.0,-30.2,10.7,-28.3,9.7,-31.4,9.6,-32.3,7.6,-30.6,6.9,-33.5,6.3,-35,5.0,-32.6,4.8,-31,4.3,-28.9,5.2,-25.4,3.4,-32.6,3.0,-28.7,2.4,-35.9,2.0,-34.4,2.0,-26.5,2.0,-37.3,0.9,-28.9,0.9,-27.2,0.6,-25.2,0.2,-31.6,0.3,-34.9,-0.1,-33,-0.5,-39.6,-0.6,-37.8,-1.5,-33.4,-2.0,-26.5,-1.9,-24.8,-1.6,-23.2,-2.2,-35.9,-3.0,-34.4,-3.7,-25.1,-3.3,-21.7,-3.8,-24.5,-4.6,-17.8,-4.5,-14.6,-4.5,-10.6,-4.4,-35.8,-4.9,-33.6,-5.0,-31.5,-5.5,-28.2,-5.4,-29.4,-6.0,-22,-5.5,-34.8,-6.6,-33.1,-6.4,-31.6,-6.9,-11.7,-6.8,-6,-7.1,-4.9,-7.5,-33,-8.9,-19.5,-8.6,-16.3,-9.6,-14.5,-10.0,-14.9,-12.3,-17.8,-13.8,-16.4,-13.5,-14.1,-13.4,-10.9,7.2,-7.9,7.2,-6.8,7.7,-5.1,7.6,-3.7,8.3,-2.4,6.7,-7.7,9.2,-5.9,9.5,-6.6,4.8,-4.8,4.0,-6.1,3.6,-2.6,4.0,-0.7,4.2,1.3,4.1,-0.8,2.7,-2.5,2.4,-4.1,1.4,-5.8,1.2,-7.9,0.9,-6.4,0.0,-0.5,0.6,0.6,-0.4,-8.5,-2.7,-15,4.8,-12.8,4.8,-15.9,4.0,-17.4,3.8,-14.7,3.1,-13.1,3.0,-16.2,1.8,-13.4,1.5,4.1,3.2,6.4,3.8,6.3,2.5,9.3,2.1,9.3,10.6,10.4,9.1,11.9,6.6,9.9,6.2,15.8,8.1,17.5,7.5,19.1,7.3,14.5,5.0,19.8,5.0,21.6,6.8,22.7,5.5,25.4,4.6,16.2,2.8,17.8,3.1,19.9,2.9,16.8,1.4,18.7,0.8,23.9,3.6,28.1,5.8,28.4,4.1,29.7,3.9,28.6,2.3,32.1,2.0,13.6,-0.1,11.6,-2.2,13.6,-3.1,24.5,-2.9,30.4,-1.4,36.9,-0.6,14.7,-5.7,18.8,-6.3,11.8,-6.8,13.3,-7.5,24,-7.6,11.8,-8.9,13.1,-9.9,38.2,-9.7,39.5,-7.2,3.9,-8.3,6.2,-7.8,4.3,-11.3,6.2,-10.8,8.1,-10.7,8,-12.7,4.1,-13.9,2.5,-13.3,3.6,-15.8,0.8,-16.0,-0.7,-16.9,-2.6,-16.1,-2.6,-17.4,-4.5,-18.6,14.4,-15.2,14.5,-18.5,17.6,-13.1];
const panelH_high=[-25.2,15.9,-24.9,13.1,-30.2,8.8,-25.4,6.6,-24.8,5.5,-18.8,5.0,-26.3,-3.7,-23,-3.9,-19.9,-4.5,-20.6,-6.0,-17.5,-6.1,-12.2,-5.0,-9.2,-5.0,-30.3,-7.6,-10.6,-0.5,-8.8,-0.8,-0.4,-1.3,-18.2,-9.6,-12.4,-10.7,-11.1,-11.2,-5,-8.8,-4.4,-13.8,-3.2,-13.7,-4.5,-16.8,2.5,-15.4,5.8,-12.7,8.2,4.4,10.2,7.9,8.2,-0.5,9,-1.3,11.8,-4.0,12.9,-5.8,14.7,-5.6,15.9,-3.7,15.2,-7.0,15.5,-8.9,16.7,-9.3,17.1,-11.1,16.4,0.5,17.6,8.9,19.6,8.5,17.6,5.8,11.8,-11.5,15.9,-15.1,14.5,-16.4,16.7,-16.3,17.7,-15.4,18.1,-16.7,17.2,-19.2,20,-15.1,20.1,-16.2,23.2,-17.0,24.1,-16.6,23.1,2.0,23.6,-0.4,23.3,-2.3,23.3,-3.6,23.4,-6.3,25,-6.4,25.3,-8.4,26.5,-7.0,26.5,-4.1,27.3,-8.3,27.9,-6.3,28.4,-0.4,30.5,-2.7,29.7,5.8,30.6,5.1,32.1,1.0,34,-1.6,35.9,0.8,38,0.5,40.2,0.6,36.3,-2.2,38.6,-1.8,39.4,-0.7,40.2,-3.0,44.1,-3.6,46.5,-2.1,47.4,-3.8,35.8,-7.6,36.6,-6.7,38.7,-8.8,42.2,-6.2,41,-9.1,42.7,-8.4,43.7,-9.1,44.6,-5.1,44.4,-7.0,45.4,-9.0,46.7,-5.0,46.8,-9.1,47.1,-7.8,48.6,-9.0,48.9,-6.2,50.1,-8.2,39.3,-11.0,41.1,-10.2,45.5,-10.6,47.2,-10.3,49.9,-9.9,38.9,-12.4,42.5,-12.5,46.4,-12.2,49.3,-11.2,40.7,-14.3];

const xTicksA=[-6,-4,-2,0,2,4,6], yTicksA=[-6,-4,-2,0,2,4,6];
const xTicksB=[-6,-4,-2,0,2,4,6], yTicksB=[-4,-2,0,2,4];
const xTicksC=[-4,-2,0,2,4,6], yTicksC=[-4,-2,0,2,4,6];
const xTicksD=[-50,-40,-30,-20,-10,0,10,20,30], yTicksD=[-20,-10,0,10,20,30];
const xTicksE=[-2.0,-1.5,-1.0,-0.5,0.0,0.5,1.0,1.5], yTicksE=[-1,0,1,2];
const xTicksF=[-2.5,-2.0,-1.5,-1.0,-0.5,0.0,0.5,1.0,1.5], yTicksF=[-1.0,-0.5,0.0,0.5,1.0,1.5,2.0];
const xTicksG=[-6,-4,-2,0,2,4,6], yTicksG=[-4,-2,0,2,4];
const xTicksH=[-40,-20,0,20,40], yTicksH=[-20,-10,0,10,20];

// ---------- layout ----------
const NS='http://www.w3.org/2000/svg';
const svg=document.getElementById('fig');
function mk(tag,attrs,parent){const e=document.createElementNS(NS,tag);for(const k in attrs)e.setAttribute(k,attrs[k]);(parent||svg).appendChild(e);return e;}
const panels=[
 {id:'a',L:'A',box:[126,10,1074,717],xm:[-6,133,6,1034],ym:[6,65,-6,688],xt:xTicksA,yt:yTicksA,dec:0,low:panelA_low,high:panelA_high,leg:[777,24,284,86],lab:[20,44]},
 {id:'b',L:'B',box:[1252,9,2202,716],xm:[-6,1301,6,2097],ym:[4,113.5,-4,639.5],xt:xTicksB,yt:yTicksB,dec:0,low:panelB_low,high:panelB_high,leg:[1905,23,284,86],lab:[1131,44]},
 {id:'c',L:'C',box:[2372,9,3322,715],xm:[-4,2482,6,3266.5],ym:[6,82,-4,621],xt:xTicksC,yt:yTicksC,dec:0,low:panelC_low,high:panelC_high,leg:[3025,22,284,86],lab:[2258,44]},
 {id:'d',L:'D',box:[3504,9,4446,709],xm:[-50,3506,30,4352],ym:[30,21,-20,665],xt:xTicksD,yt:yTicksD,dec:0,low:panelD_low,high:panelD_high,leg:[3517,22,282,86],lab:[3380,44]},
 {id:'e',L:'E',box:[139,900,1088,1515],xm:[-2,167,1.5,1077],ym:[2,1005,-1,1400],xt:xTicksE,yt:yTicksE,dec:1,ydec:0,low:panelE_low,high:panelE_high,leg:[152,914,304,92],lab:[24,921]},
 {id:'f',L:'F',box:[1260,900,2209,1516],xm:[-2.5,1271,1.5,2182],ym:[2,974.6,-1,1472],xt:xTicksF,yt:yTicksF,dec:1,ydec:1,low:panelF_low,high:panelF_high,leg:[1892,915,301,92],lab:[1133,921]},
 {id:'g',L:'G',box:[2371,897,3320,1604],xm:[-6,2396,6,3288.5],ym:[4,1008,-4,1495.6],xt:xTicksG,yt:yTicksG,dec:0,low:panelG_low,high:panelG_high,leg:[2384,1504,285,87],lab:[2268,921]},
 {id:'h',L:'H',box:[3501,898,4449,1605],xm:[-40,3536,40,4304],ym:[20,974.6,-20,1584],xt:xTicksH,yt:yTicksH,dec:0,low:panelH_low,high:panelH_high,leg:[4151,912,285,86],lab:[3388,916]}
];
function lin(m){const s=(m[3]-m[1])/(m[2]-m[0]);return v=>m[1]+(v-m[0])*s;}
function fmt(v,d){const s=Math.abs(v).toFixed(d);return (v<0?'\u2212':'')+s;}
panels.forEach(p=>{
  const g=mk('g',{});
  
  
  const X=lin(p.xm),Y=lin(p.ym);
  const [x0,y0,x1,y1]=p.box;
  const lt=mk('text',{x:p.lab[0],y:p.lab[1],'font-size':22,fill:'#000'},g);lt.textContent=p.L;
  
  
  // points
  const pts=mk('g',{},g);
  
  
  [[p.low,'#008000','low'],[p.high,'#ff0000','high']].forEach(([arr,col,nm])=>{
    for(let i=0;i<arr.length;i+=2){
      const c=mk('circle',{cx:X(arr[i]).toFixed(1),cy:Y(arr[i+1]).toFixed(1),r:7.5,fill:col},pts);
      
      
    }
  });
  // frame
  const fr=mk('rect',{x:x0,y:y0,width:x1-x0,height:y1-y0,fill:'none',stroke:'#000','stroke-width':2},g);
  
  
  // x ticks
  p.xt.forEach(v=>{
    const px=X(v);
    mk('line',{x1:px,y1:y1,x2:px,y2:y1+7,stroke:'#000','stroke-width':2},g);
    const t=mk('text',{transform:`translate(${px},${y1+40}) scale(0.75,1)`,'font-size':30,'text-anchor':'middle',fill:'#000'},g);
    t.textContent=fmt(v,p.dec);
    
    
  });
  p.yt.forEach(v=>{
    const py=Y(v);
    mk('line',{x1:x0-7,y1:py,x2:x0,y2:py,stroke:'#000','stroke-width':2},g);
    const t=mk('text',{transform:`translate(${x0-12},${py+11}) scale(0.75,1)`,'font-size':30,'text-anchor':'end',fill:'#000'},g);
    t.textContent=fmt(v,p.ydec===undefined?p.dec:p.ydec);
    
    
  });
  const xl=mk('text',{x:(x0+x1)/2+12,y:y1+88,'font-size':30,'text-anchor':'middle',textLength:161,lengthAdjust:'spacingAndGlyphs',fill:'#000'},g);
  xl.textContent='t-SNE Axis 1';
  
  
  const yOff=(p.id==='f')?70:82;
  const yl=mk('text',{transform:`translate(${x0-yOff+8},${(y0+y1)/2}) rotate(-90)`,'font-size':25,'text-anchor':'middle',textLength:159,lengthAdjust:'spacingAndGlyphs',fill:'#000'},g);
  yl.textContent='t-SNE Axis 2';
  
  
  // legend
  const [lx,ly,lw,lh]=p.leg, s=lw/285;
  const lg=mk('g',{},g);
  
  
  mk('rect',{x:lx,y:ly,width:lw,height:lh,rx:4,fill:'rgba(255,255,255,0.85)',stroke:'#cccccc','stroke-width':2},lg);
  [['Low Fuhrman','#008000',24*s,178*s],['High Fuhrman','#ff0000',62*s,187*s]].forEach(([txt,col,dy,tl])=>{
    const c=mk('circle',{cx:lx+37*s,cy:ly+dy,r:7.5,fill:col},lg);
    
    
    const t=mk('text',{x:lx+86*s,y:ly+dy+11,'font-size':30*s,textLength:tl,lengthAdjust:'spacingAndGlyphs',fill:'#000'},lg);
    t.textContent=txt;
    
    
  });
});
</script>
</body></html>
